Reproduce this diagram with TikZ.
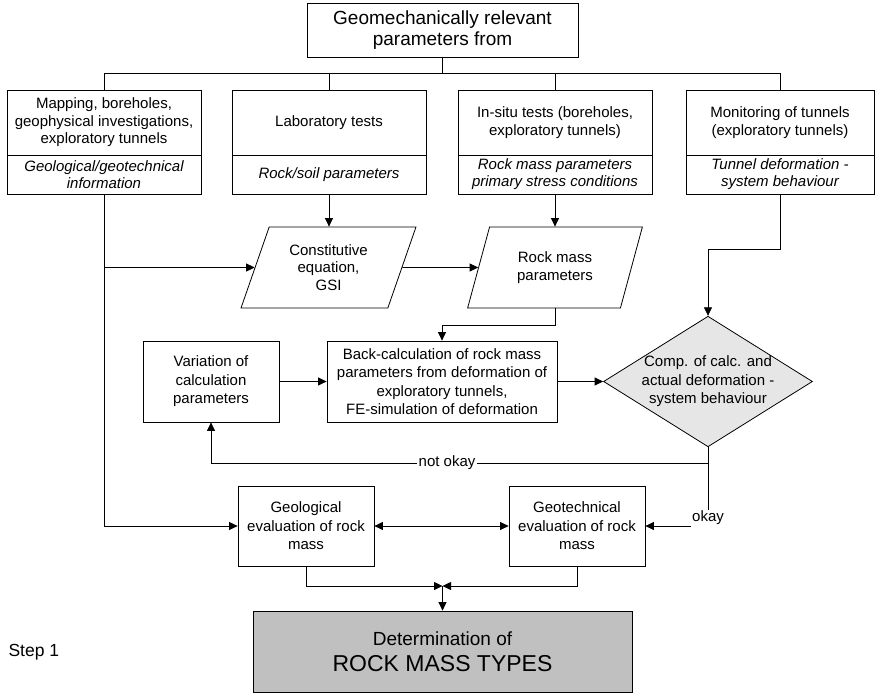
\documentclass[tikz,border=0pt]{standalone}
\usepackage{fontspec}
\setmainfont{Liberation Sans}
\usetikzlibrary{arrows.meta,shapes.geometric}
\definecolor{diafill}{HTML}{E6E6E6}
\definecolor{resfill}{HTML}{C0C0C0}

\begin{document}
\begin{tikzpicture}[x=1pt,y=-1pt,
  line/.style={draw=black,line width=0.8pt},
  arr/.style={line,-{Triangle[length=8.5pt,width=8pt]}},
  darr/.style={line,{Triangle[length=8.5pt,width=8pt]}-{Triangle[length=8.5pt,width=8pt]}},
  every node/.style={font=\fontsize{15}{17.5}\selectfont,align=center},
  box/.style={line,rectangle,inner sep=0pt},
  ital/.style={font=\fontsize{15}{17}\selectfont\itshape},
  roomy/.style={font=\fontsize{15}{18.5}\selectfont},
  para/.style={line,trapezium,trapezium left angle=68,trapezium right angle=112,
    trapezium stretches=true,minimum width=175pt,minimum height=81pt,inner sep=0pt},
  decide/.style={line,diamond,fill=diafill,aspect=1.6,inner sep=-1pt,
    font=\fontsize{15}{18.5}\selectfont},
  result/.style={line,rectangle,fill=resfill,inner sep=0pt}
]
\useasboundingbox (0,0) rectangle (875,693);

% title
\node[box,minimum width=271pt,minimum height=54pt,font=\fontsize{19}{21}\selectfont]
  (top) at (442.5,30) {Geomechanically relevant\\parameters from};

% four sources, each with its outcome underneath
\node[box,minimum width=194pt,minimum height=65pt] (m1) at (104,122.5)
  {Mapping, boreholes,\\geophysical investigations,\\exploratory tunnels};
\node[box,ital,minimum width=194pt,minimum height=39pt] (m1i) at (104,174.5)
  {Geological/geotechnical\\information};
\node[box,minimum width=194pt,minimum height=65pt] (m2) at (329,122.5)
  {Laboratory tests};
\node[box,ital,minimum width=194pt,minimum height=39pt] (m2i) at (329,174.5)
  {Rock/soil parameters};
\node[box,minimum width=194pt,minimum height=65pt] (m3) at (555,122.5)
  {In-situ tests (boreholes,\\exploratory tunnels)};
\node[box,ital,minimum width=194pt,minimum height=39pt] (m3i) at (555,174.5)
  {Rock mass parameters\\primary stress conditions};
\node[box,minimum width=188pt,minimum height=65pt] (m4) at (780,122.5)
  {Monitoring of tunnels\\(exploratory tunnels)};
\node[box,ital,minimum width=188pt,minimum height=39pt] (m4i) at (780,174.5)
  {Tunnel deformation -\\system behaviour};

% derived parameters
\node[para] (p1) at (328.5,267.5) {Constitutive\\equation,\\GSI};
\node[para] (p2) at (555,267.5) {Rock mass\\parameters};

% back-calculation loop
\node[box,roomy,minimum width=136pt,minimum height=81pt] (var) at (211,381.5)
  {Variation of\\calculation\\parameters};
\node[box,roomy,minimum width=230pt,minimum height=81pt] (bc) at (442,381.5)
  {Back-calculation of rock mass\\parameters from deformation of\\exploratory tunnels,\\FE-simulation of deformation};
\node[decide] (d) at (708,381.5)
  {Comp. of calc. and\\actual deformation -\\system behaviour};

% evaluations
\node[box,roomy,minimum width=136pt,minimum height=80pt] (g1) at (306,526)
  {Geological\\evaluation of rock\\mass};
\node[box,roomy,minimum width=136pt,minimum height=80pt] (g2) at (577,526)
  {Geotechnical\\evaluation of rock\\mass};

% result
\node[result,minimum width=379pt,minimum height=81pt] (det) at (442.5,651.5)
  {{\fontsize{19}{23}\selectfont Determination of}\\[9pt]{\fontsize{23}{27}\selectfont ROCK MASS TYPES}};
\node[anchor=west,font=\fontsize{17.5}{20}\selectfont] (step) at (5,652) {Step 1};

% distribution bus below the title
\coordinate (bus) at (442.5,73);
\draw[line] (top.south) -- (bus);
\draw[line] (m1.north) -- (m1.north |- bus) -- (m4.north |- bus) -- (m4.north);
\draw[line] (m2.north) -- (m2.north |- bus);
\draw[line] (m3.north) -- (m3.north |- bus);

% mapping branch
\draw[arr] (m1i.south) |- (g1.west);
\draw[arr] (m1i.south |- p1) -- (p1);

% parameters
\draw[arr] (m2i.south) -- (m2i.south |- p1.north);
\draw[arr] (m3i.south) -- (m3i.south |- p2.north);
\draw[arr] (p1) -- (p2);
\draw[arr] (m3i.south |- p2.south) -- ++(0,16.5) -| (bc.north);

% monitoring into comparison
\draw[arr] (m4i.south) -- ++(0,55) -| (d.north);

% loop
\draw[arr] (var.east) -- (bc.west);
\draw[arr] (bc.east) -- (d.west);
\coordinate (dj) at (708,463);
\draw[line] (d.south) -- (dj);
\draw[arr] (dj) -- node[pos=0.525,fill=white,inner sep=2pt] (nok) {not okay}
  (var.south |- dj) -- (var.south);

% okay branch
\node[inner sep=1pt] (ok) at (708,518) {okay};
\draw[line] (dj) -- (ok.north);
\draw[arr] (ok.west |- g2.east) -- (g2.east);

% evaluations feed the result
\draw[darr] (g1.east) -- (g2.west);
\coordinate (mg) at (442.5,586);
\draw[arr] (g1.south) |- (mg);
\draw[arr] (g2.south) |- (mg);
\draw[arr] (mg) -- (det.north);
\end{tikzpicture}
\end{document}
